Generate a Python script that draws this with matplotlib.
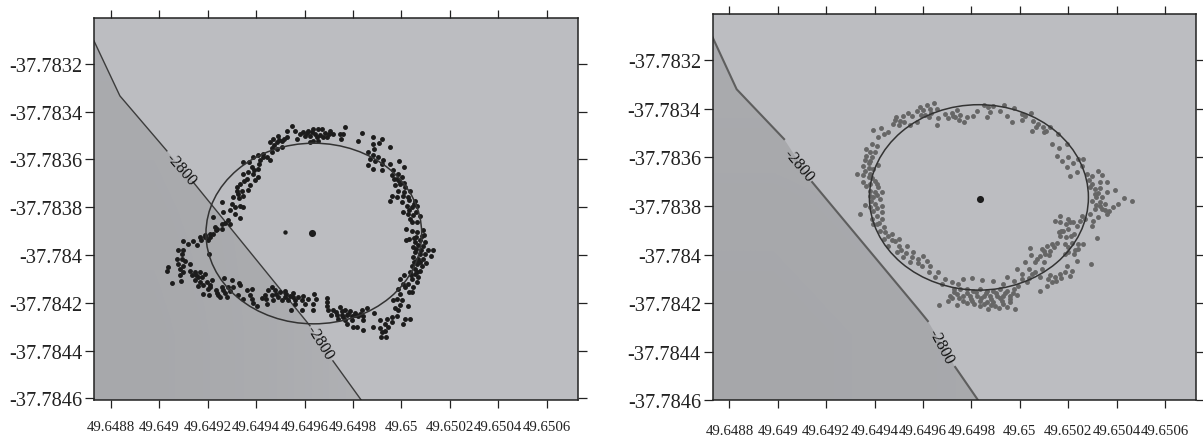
import numpy as np
import matplotlib
matplotlib.use("Agg")
from matplotlib import pyplot as plt
from matplotlib.colors import LinearSegmentedColormap
from matplotlib.patches import Ellipse, Polygon

plt.rcParams["font.family"] = ["Liberation Serif", "DejaVu Serif"]

# coordinates are written as offsets, in units of 1e-5 degrees:
# longitude = 49.64 + x, latitude = -37.78 - y
LON0 = 49.64
LAT0 = -37.78
UNIT = 1e-5

x_ticks = [49.6488, 49.649, 49.6492, 49.6494, 49.6496, 49.6498, 49.65, 49.6502, 49.6504, 49.6506]
x_labels = ["49.6488", "49.649", "49.6492", "49.6494", "49.6496", "49.6498", "49.65", "49.6502", "49.6504", "49.6506"]
y_ticks = [-37.7832, -37.7834, -37.7836, -37.7838, -37.784, -37.7842, -37.7844, -37.7846]
y_labels = ["-37.7832", "-37.7834", "-37.7836", "-37.7838", "-37.784", "-37.7842", "-37.7844", "-37.7846"]

# -2800 depth contour, the None entries are the gaps left for the labels
left_contour = [(873, 310.4), (883.7, 333.4), (903.1, 356.4), None, (913.9, 369.4), (962.2, 429.6), None,
                (971.7, 444.3), (983.3, 460.6)]
right_contour = [(873, 310.5), (883, 332), (902.6, 352.5), None, (914.2, 370.2), (958, 422.5), (962, 427.4), None,
                 (973.3, 446.3), (983.2, 460.6)]

left_labels = [(908.9, 363.9, -49), (966.4, 436.3, -58)]
right_labels = [(908.8, 363.2, -50), (967.4, 437.7, -62)]

left_center = (963, 390.8)
left_second = (952, 390.3)
right_center = (983.6, 377)
left_fit = (963.8, 391, 89.1, 75.6)
right_fit = (983.1, 376.5, 90.5, 76.3)

# shading of the deep side, 0 is darkest
left_shade = [[0.25, 0.35, 0.55, 0.7], [0.2, 0.3, 0.6, 0.85], [0.15, 0.3, 0.6, 0.8]]
right_shade = [[0.25, 0.25, 0.3, 0.3], [0.15, 0.2, 0.25, 0.3], [0.1, 0.15, 0.2, 0.25]]

left_points = [
    (954.6, 346), (952.6, 347.9), (956, 347.9), (949.1, 350.2), (947, 351.6), (945.7, 352.8), (948.4, 352.8),
    (950.5, 352.1), (952.6, 350.7), (956.7, 351.4), (959.4, 348.6), (961.5, 347.9), (963.6, 347.2), (965.6, 347.2),
    (967, 347.4), (960.1, 350), (962.2, 350), (964.3, 349.3), (966.3, 349.7), (968.4, 348.8), (970.5, 347.9),
    (971.6, 349.3), (969.1, 350.7), (963.6, 352.1), (965.6, 352.1), (962.2, 352.5), (946.4, 355.3), (948.4, 355.5),
    (950.5, 354.8), (946.4, 357), (974.6, 349.3), (976, 349.3), (976.8, 346.5), (974.9, 351.6),
    (983.8, 348.8), (982.2, 352.1), (988.4, 350.7), (991.8, 351.6), (988.4, 353.4), (990.8, 353.2), (995.2, 354.6),
    (988.6, 355.8),
    (986.3, 357), (988.4, 358.3), (990.4, 359), (992.5, 360.4), (987, 359.7), (989.1, 360.8), (991.8, 361.8),
    (986.3, 362.5), (988.4, 363.9), (991.8, 364.6), (995.2, 361.8), (999.1, 360.8), (1001, 363.2), (996.6, 364.6),
    (998.7, 366), (995.9, 366.7), (998, 368.1), (1000.1, 367.4), (997.3, 370.9), (999.4, 370.2), (1001.4, 371.6),
    (1003.5, 373), (998.7, 373), (995.9, 375.1), (995.2, 377.4), (998, 375.8), (1000.8, 375.1), (1002.8, 375.8),
    (1005.6, 377.2), (1000.1, 377.9), (1002.1, 379.3), (1004.2, 380), (1006.3, 379.3), (1000.8, 382), (1002.8, 382.7),
    (1004.9, 383.4), (1007.6, 383.7), (1003.5, 384.8), (1006.3, 386.2), (1004.2, 386.2),
    (1001.7, 389.3), (1004.2, 390.1), (1006.3, 390.4), (1008.7, 389.7), (1009.3, 391.8), (1001.9, 393.9),
    (1003.2, 393.2), (1005.6, 394.6), (1007.6, 393.9), (1009.7, 394.6), (1004.9, 396.7), (1007, 396), (1009, 396.3),
    (1011.1, 398.1), (1012.9, 398.1), (1005.6, 398.8), (1007.6, 399.5), (1009.7, 399.5), (1012, 400.5),
    (1004.9, 400.9), (1007, 401.6), (1009, 401.6), (1006.3, 403.7), (1008.3, 404.4), (1010.1, 403.2), (1004.2, 404.4),
    (1005.6, 405.8), (1007.6, 406.5), (1003.5, 407.2), (1005.6, 407.9), (1007, 409.2), (1004.2, 410), (1006.3, 411.3),
    (1002.8, 412), (1004.6, 413.4), (1001, 408.5), (999.4, 410), (1000.8, 412), (1001.4, 413.4), (998.7, 414.1),
    (1003.2, 415.5), (1004.2, 415.5),
    (999.4, 416.2), (998, 418.3), (1000.1, 419), (996.6, 419), (999.4, 421.1), (1002.8, 421.4), (997.3, 422.2),
    (998.7, 423.2), (988.6, 424.2), (998, 425.6), (995.9, 426), (993.9, 426.7), (991.1, 427.1), (1001.4, 426.7),
    (1003.5, 426.7), (1000.8, 429), (995.9, 428.1), (993.2, 428.8), (988.4, 430.2), (991.1, 430.6), (994.6, 430.2),
    (993.2, 431.6), (991.8, 432.3), (991.4, 434.1), (993.6, 434.4),
    (969.1, 418), (969.1, 419.7), (969.1, 421.4), (969.8, 423.2), (971.8, 423.2), (974.6, 421.8), (976.7, 423.2),
    (978.7, 423.6), (980.8, 424.2), (983.5, 423.2), (985.6, 422.1), (971.1, 425.3), (973.2, 425.3), (975.3, 425),
    (977.3, 425), (979.4, 425.6), (982.2, 425.6), (984.2, 425.6), (973.9, 426.7), (976.7, 427), (979.4, 427.4),
    (984.2, 427.4), (977.3, 428.8), (980.1, 430.2), (981.8, 430.2), (984, 431.3),
    (946.4, 413.4), (945, 414.8), (947.7, 414.8), (949.8, 415.5), (951.9, 415.2), (955.3, 415.8), (943.6, 416.9),
    (946.4, 416.6), (949.1, 417.6), (951.9, 417.6), (953.9, 417.2), (957.4, 417.6), (959.5, 417.2), (963.9, 416.2),
    (942.2, 417.9), (947, 419), (950.5, 419), (953.3, 419), (956, 419), (958.8, 419), (961.5, 418.6), (944.3, 420.4),
    (956, 420.4), (960.1, 420.4), (964.6, 418.6), (963.6, 420.4), (954.2, 422.8), (959, 422.9), (963.6, 423.2),
    (912.6, 406.5), (914.7, 407.2), (916.8, 407.2), (918.8, 407.9), (913.3, 408.5), (916.1, 409.2), (914.7, 410.6),
    (916.8, 411.3), (919.5, 411.3), (921.6, 410.6), (918.1, 412.7), (920.9, 412.7), (916.1, 413), (926.7, 409.5),
    (929.8, 410.6), (933, 411.6), (925.7, 413.4), (928.5, 413.4), (930.5, 413.4), (933.3, 412.7), (920.2, 414.4),
    (923.6, 414.8), (926.4, 414.8), (929.1, 415.2), (936, 414.8), (938.1, 414.1), (917.9, 416.2), (920.6, 416.6),
    (924.3, 416.6), (927.8, 417.6), (932.6, 416.6), (937.4, 416.6), (925, 417.6), (934.7, 418.3), (938.1, 418.3),
    (938.8, 420), (940.2, 421.4),
    (909.9, 394.3), (911.9, 395.3), (913.7, 394.2), (915.4, 396), (907.8, 398.1), (909.9, 398.1), (909.2, 399.5),
    (907.1, 401.6), (909.2, 401.6), (910.6, 402.3), (912.6, 403.7), (907.8, 403.7), (909.9, 404.4), (903.7, 405.1),
    (903, 406.5), (908.5, 405.8), (909.9, 407.2), (908.5, 408.5), (905.3, 411.6), (908.9, 410.9),
    (916.8, 392.5), (918.8, 391.8), (920.9, 392.5), (917.4, 393.9), (920.2, 393.9), (922.3, 391.1), (923.6, 389.7),
    (925.7, 389), (923, 388.3), (925.7, 386.9), (928.5, 385.5), (929.1, 386.9), (920.6, 399.5), (922.3, 384.1),
    (925.7, 377.9), (926.4, 382), (929.8, 378.6), (929.1, 381.3), (931.2, 380), (933.3, 379.3), (934.7, 380),
    (931.2, 382.7), (933.3, 384.6), (930.5, 375.8), (932.6, 374.4), (934.7, 375.1), (932.2, 371.6), (933.3, 370.2),
    (934, 373), (937.4, 370.9), (936.7, 372.7), (934.7, 366), (936.7, 365.3), (938.8, 366), (940.9, 367.4),
    (936, 368.1), (939.5, 368.8), (934.7, 361.1), (937.1, 361.1), (938.1, 363.2), (940.9, 363.9), (938.8, 359),
    (940.9, 358.3), (942.9, 357.6), (941.5, 360.4), (944.3, 359), (945.7, 360.4),
    (958, 349.5), (961, 349), (963, 348.5), (965, 350.5), (967.5, 350.5), (970, 349.2), (947.5, 354), (949.5, 352),
    (951.5, 351.5), (975.5, 423.5), (978, 424.5), (981, 425.2), (983, 424.5), (976, 426), (973, 424),
    (1006, 392.5), (1008.5, 392), (1005, 393), (1006, 397.5), (1008, 398), (1006, 402.5), (1007.5, 403), (1005, 403),
    (1006.5, 407), (1004, 408.5), (997, 368), (999, 369), (1001, 370), (1001, 373.5), (1003, 377), (1005, 378.5),
    (1003, 381), (1006, 382), (919, 392.5), (921, 391), (924, 389), (927, 386.5), (915, 408.5), (917.5, 409),
    (921, 413.5), (924, 415.8), (927, 416), (944, 418.5), (948, 416.5), (952.5, 416.3), (955, 417.5),
    (933, 376), (932, 373), (935, 369), (939, 364.5), (941, 361.7), (943, 358.8),
]

right_points = [
    (964.6, 337.7), (961.8, 338.3), (958.8, 339.4), (957.4, 340.8), (960.2, 340.4), (962.9, 340.1), (965.7, 340.1),
    (954, 341.8), (951.9, 342.9), (948.5, 344.5), (950.5, 344.9), (947.5, 346.3), (949.9, 346.7), (954.7, 346.7),
    (957.4, 345.6), (962.3, 343.6), (966.4, 344), (965.7, 346.7), (969.1, 342.2), (971.9, 341.8), (974, 340.4),
    (970.5, 344), (973.3, 343.6), (975.3, 342.6), (978.1, 343.6), (977, 345.6), (980.8, 342.9), (982.2, 340.8),
    (985, 338.5), (987, 339.4), (989.1, 338.8), (986.4, 343.6), (987.7, 341.5), (993.5, 338.5), (991.9, 340.8),
    (997.6, 339.9), (994.6, 342.9), (996.7, 345.3), (1000.8, 342.2), (1004.5, 341.8), (1000.8, 344.5), (1005.6, 344.9),
    (1007.7, 346.3), (1004.9, 349), (1009.8, 349.7), (1012.5, 347.7), (1015.9, 350.4), (1009.5, 347.7),
    (939.5, 348.8), (942.7, 348.1), (943.7, 350.4), (945.7, 349.7), (941.6, 351.8), (938.8, 354.5), (940.9, 355.2),
    (936.4, 356.6), (938.2, 358), (940.2, 358), (936.1, 361), (938.2, 361.4), (941.6, 363.2), (935.4, 363.7),
    (937.5, 364.6), (932.9, 366.9), (935.4, 367.3), (938.2, 366.9), (935.4, 370.3), (938.2, 371), (940.2, 369.6),
    (941.6, 372.4), (938.2, 373.7), (940.2, 374.4), (943, 374.4), (939.5, 376.5), (942.3, 377.2), (936.1, 379.6),
    (940.2, 379.2), (943, 379.9), (934, 383.5), (939.5, 382), (943, 382.7), (938.8, 385.4), (940.9, 387.5),
    (943, 385.4), (939.5, 387.5), (942.3, 390.2), (944.4, 390.9), (947.1, 391.6), (943.7, 393.6), (945.7, 396.4),
    (948.5, 394.3), (949.9, 396.4), (953.3, 396.4), (949.2, 399.1), (951.9, 401.2), (955.4, 401.2), (958.1, 401.9),
    (961.6, 402.6), (954.7, 403.2), (959.5, 404.6), (962.9, 404.6), (962.3, 407.4), (966.4, 407.1), (965, 409.4),
    (969.1, 410.1), (971.9, 411.5), (976.7, 410.1), (980.2, 409.8), (974.6, 412.2), (967.8, 412.2), (984.3, 410.4),
    (988.8, 410.8),
    (972.6, 414.2), (975.3, 414.2), (978.1, 414.2), (980.8, 414.9), (983.6, 414.2), (986.4, 414.9), (989.1, 414.9),
    (991.9, 414.2), (994.6, 414.9), (997.4, 414.2), (971.2, 417), (974, 416.3), (976.7, 417), (979.5, 417), (982.2, 417),
    (985, 417), (987.7, 417), (990.5, 417), (993.2, 417), (996, 417), (970.5, 419.3), (974, 420.8), (976.7, 419),
    (980.2, 419), (983.6, 419), (986.4, 419.7), (989.1, 419.7), (992.5, 419), (996, 419.7), (966.7, 420.7),
    (983.6, 421.1), (986.8, 422.5), (991.2, 422.2), (994.6, 421.8), (998.1, 422.5), (989.8, 421.1),
    (994.6, 409.4), (997.4, 410.8), (993.2, 412.2), (999.4, 412.8), (998.7, 406), (1002.2, 403.2), (1003.6, 406),
    (1000.8, 408), (1004.9, 408), (1006.3, 407.4), (1002.9, 411.5), (1004.5, 400.2), (1004.3, 397.5), (1009.1, 397.8),
    (1011.1, 396.4), (1013.2, 395.7), (1015.3, 395.3), (1008.4, 400.5), (1010.5, 399.8), (1012.5, 398.4), (1006.3, 403),
    (1009.8, 403.2), (1008.4, 409.4), (1009.1, 406), (1011.8, 410.1), (1014.6, 409.4), (1016.6, 408), (1011.1, 412.8),
    (1013.2, 411.5), (1008.4, 414.9), (1018.7, 407.4), (1021.5, 406.7), (1020.8, 409), (1019.4, 404.6), (1023.5, 402.6),
    (1020.1, 399.1), (1018.7, 399.8), (1022.2, 399.8), (1024.2, 397.8), (1026.3, 395.7), (1018.7, 395.7), (1021.5, 395.3),
    (1024.2, 395.7), (1016, 390.9), (1018, 390.2), (1020.1, 389.5), (1022.2, 391.6), (1016.6, 392.3), (1023.5, 388.2),
    (1020.8, 386.8), (1014.6, 386.1), (1016.6, 384), (1020.1, 385.4), (1016.6, 386.8), (1025.6, 384), (1027, 385.4),
    (1024.9, 386.1), (1029.3, 403.9), (1031.8, 393.2),
    (1013.2, 354.5), (1016, 356.3), (1019.4, 354.5), (1015.3, 359.3), (1017.3, 361.4), (1020.1, 360), (1019.4, 364.1),
    (1024.2, 360.7), (1026.3, 360.7), (1025.6, 363.5), (1020.8, 367.8), (1023.5, 366.2), (1027.7, 366.9), (1029.7, 367.8),
    (1032.5, 365.5), (1033.9, 367.3), (1036.2, 370.3), (1033.2, 370.3), (1029.1, 372.4), (1031.1, 373), (1033.2, 372.8),
    (1035.9, 374.4), (1039.4, 373.5), (1031.5, 376.5), (1029.7, 377.9), (1033.2, 378.5), (1035.2, 379.2), (1031.1, 381.3),
    (1033.9, 381.3), (1038.7, 380.6), (1040.7, 379.2), (1043.1, 376.9), (1046.5, 377.9), (1035.9, 383.4), (1032.5, 384.7),
    (1030.4, 386.1), (1029.7, 388.2), (1029, 383.3),
    (973, 415.5), (975, 418), (978, 416), (980, 418.5), (982, 415.6), (984, 418), (986, 416), (988, 418.5), (990, 416),
    (992, 418), (994, 416), (996, 418.5), (972, 418), (978, 420), (981, 420.5), (985, 420.5), (988, 420.8), (993, 420.5),
    (997, 415.8), (999, 416.5), (936.5, 359.5), (937.5, 362.5), (939, 360), (936, 365.5), (937.5, 368), (939.5, 365),
    (936.5, 372), (939, 368.5), (941, 371), (938, 376), (941, 375.5), (938.5, 378), (941, 381), (938, 380.5), (941, 384),
    (942, 387), (944, 388.5), (945.5, 392.5), (947, 394), (950, 393.5), (951, 398), (953, 399.5), (956, 399),
    (958, 403.5), (960, 400.5), (1010, 398.5), (1012, 400), (1014, 397), (1007, 402), (1019, 393), (1017, 390.5),
    (1021, 392.5), (1023, 398), (1020, 396.8), (1022, 386.5), (1019, 387.5), (1004, 409.5), (1001, 410), (1012.5, 408.5),
    (1015, 411), (1017, 409.8), (1031, 375), (1032.5, 374.5), (1034, 376.5), (1031.5, 379.5), (1033, 380), (1035, 381.5),
    (1037, 382), (1030, 371), (1028.5, 369.5), (1022, 362.5), (949, 343.5), (952, 345.5), (955.5, 343), (959, 342.5),
    (961, 342.4), (963.5, 341.6), (972.5, 343), (975, 344.6), (1002, 343.2), (1006.5, 347.5), (1011, 349),
]

shade_cmap = LinearSegmentedColormap.from_list("shade", ["#a4a5a8", "#bbbcc0"])


def lon(values):
    return LON0 + np.asarray(values, dtype=float) * UNIT


def lat(values):
    return LAT0 - np.asarray(values, dtype=float) * UNIT


def draw_panel(box, xlim, ylim, contour, labels, fit, shade, points, point_color, contour_color, contour_width, label_pad):
    # box is left, top, right, bottom in pixels of the 1203x439 figure
    ax = fig.add_axes([box[0] / 1203, 1 - box[3] / 439, (box[2] - box[0]) / 1203, (box[3] - box[1]) / 439])
    ax.set_facecolor("#bcbdc1")

    xs = [np.nan if p is None else p[0] for p in contour]
    ys = [np.nan if p is None else p[1] for p in contour]

    image = ax.imshow(shade, cmap=shade_cmap, vmin=0, vmax=1, interpolation="bilinear", aspect="auto",
                      extent=[xlim[0], xlim[1], ylim[0], ylim[1]], zorder=1)
    vertices = [(lon(p[0]), lat(p[1])) for p in contour if p is not None] + [(xlim[0], ylim[0])]
    region = Polygon(vertices, closed=True, transform=ax.transData, facecolor="none", edgecolor="none")
    ax.add_patch(region)
    image.set_clip_path(region)

    ax.plot(lon(xs), lat(ys), color=contour_color, lw=contour_width, zorder=2)
    for x, y, angle in labels:
        ax.text(lon(x), lat(y), "-2800", fontsize=11.7, rotation=angle, rotation_mode="anchor",
                ha="center", va="center", color="#111111", zorder=5)

    data = np.array(points)
    ax.scatter(lon(data[:, 0]), lat(data[:, 1]), s=12.5, color=point_color, linewidths=0, zorder=3)

    ax.add_patch(Ellipse((lon(fit[0]), lat(fit[1])), fit[2] * UNIT, fit[3] * UNIT, fill=False,
                         edgecolor="#333333", lw=1.1, zorder=4))

    ax.set_xlim(xlim)
    ax.set_ylim(ylim)
    ax.set_xticks(x_ticks, x_labels, fontsize=10.7)
    ax.set_yticks(y_ticks, y_labels, fontsize=14.7)
    ax.tick_params(axis="x", top=True, length=5.8, width=0.9, pad=label_pad, color="#222222", labelcolor="#222222")
    ax.tick_params(axis="y", right=True, length=6.5, width=0.9, pad=2, color="#222222", labelcolor="#222222")
    for spine in ax.spines.values():
        spine.set_linewidth(1.1)
        spine.set_color("#222222")
    return ax


fig = plt.figure(figsize=(12.03, 4.39), dpi=100)

ax_left = draw_panel((94, 19, 577.7, 401.3), (49.64873, 49.650728), (-37.784608, -37.783008), left_contour, left_labels,
                     left_fit, left_shade, left_points, "#1c1c1c", "#3c3c3c", 1.0, 8.5)
ax_left.scatter(lon([left_center[0]]), lat([left_center[1]]), s=26, color="#1c1c1c", linewidths=0, zorder=5)
ax_left.scatter(lon([left_second[0]]), lat([left_second[1]]), s=10, color="#1c1c1c", linewidths=0, zorder=5)

ax_right = draw_panel((712.7, 14.7, 1196, 401.3), (49.648731, 49.650728), (-37.7846, -37.783009), right_contour,
                      right_labels, right_fit, right_shade, right_points, "#666666", "#5e5e5e", 1.5, 11.5)
ax_right.scatter(lon([right_center[0]]), lat([right_center[1]]), s=26, color="#1c1c1c", linewidths=0, zorder=5)

fig.savefig("out.png", dpi=100)
